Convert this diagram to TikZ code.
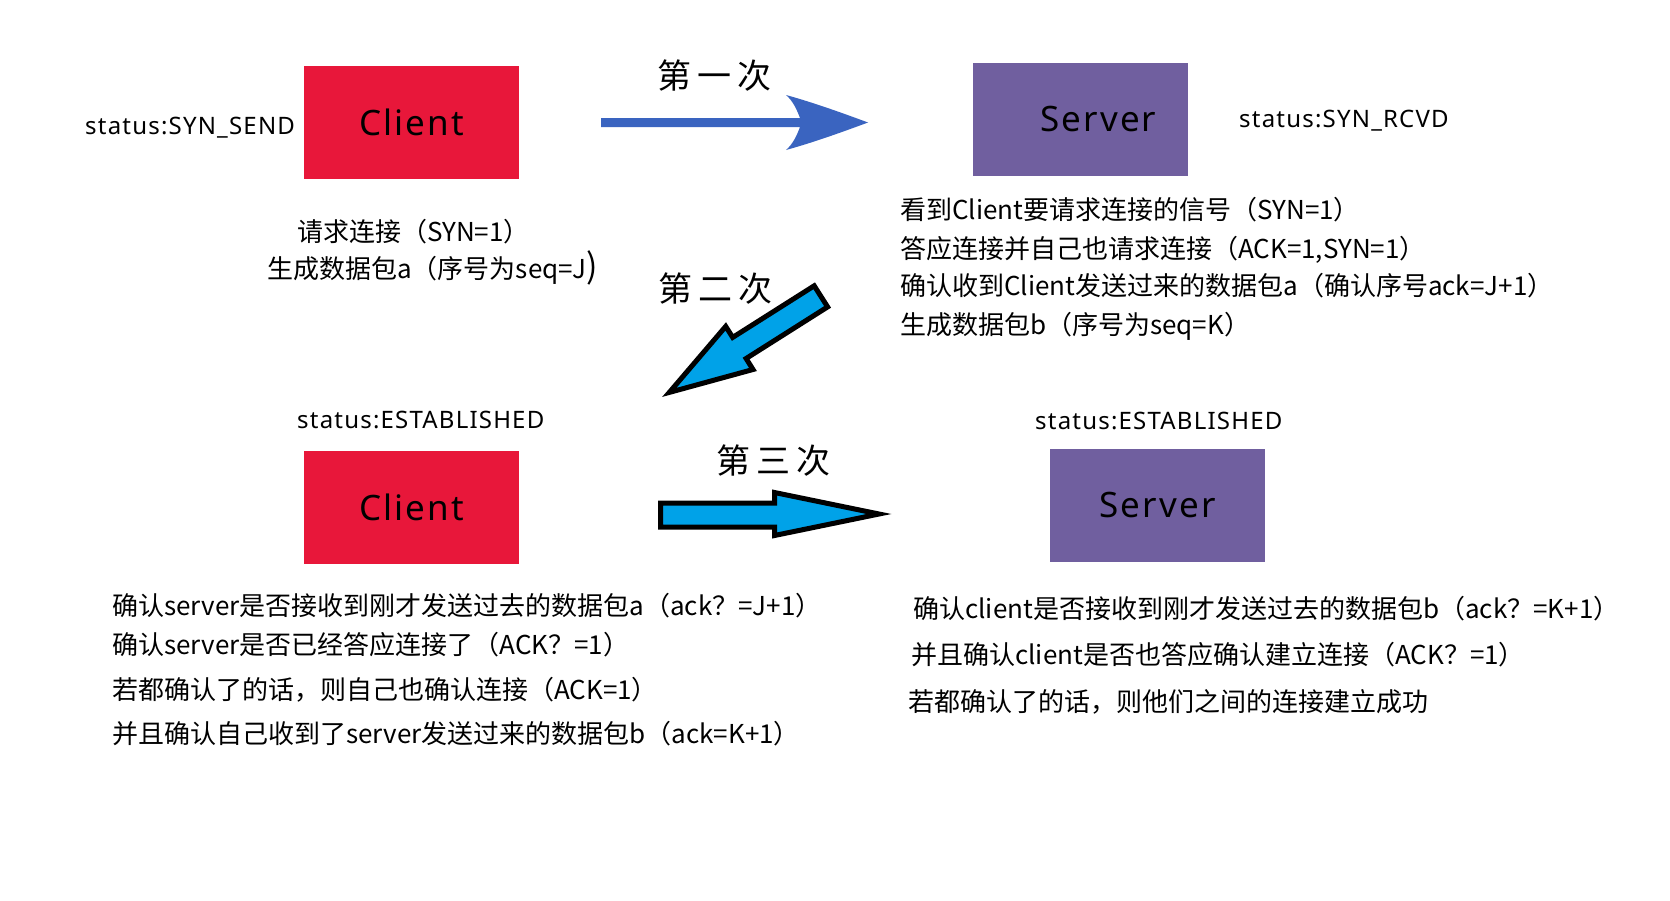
\documentclass[tikz,border=0pt]{standalone}
\usepackage{fontspec}
\setmainfont{Noto Sans}
\newfontfamily\cjk{Noto Sans CJK SC}
\newfontfamily\cjkhead[LetterSpace=18]{Noto Sans CJK SC}
\newfontfamily\statfont[LetterSpace=5]{Noto Sans}
\newfontfamily\boxfont[LetterSpace=6]{Noto Sans}
\definecolor{cred}{HTML}{E8173A}
\definecolor{spurple}{HTML}{705F9F}
\definecolor{ablue}{HTML}{3A64C0}
\definecolor{acyan}{HTML}{00A2E8}
\begin{document}
\begin{tikzpicture}[x=1pt,y=-1pt,
  body/.style={anchor=base west, inner sep=0pt, font=\cjk\fontsize{26}{30}\selectfont},
  headtxt/.style={anchor=base west, inner sep=0pt, font=\cjkhead\fontsize{34}{40}\selectfont},
  stat/.style={anchor=base west, inner sep=0pt, font=\statfont\fontsize{24}{28}\selectfont},
  clientbox/.style={fill=cred, minimum width=215pt, minimum height=113pt, inner sep=0pt, font=\boxfont\fontsize{35}{40}\selectfont},
  serverbox/.style={clientbox, fill=spurple},
  blockarrow/.style={fill=acyan, draw=black, line width=5pt, miter limit=10}
]
\fill[white] (0,0) rectangle (1670,900);
\useasboundingbox (0,0) rectangle (1670,900);

% boxes
\node[clientbox] (c1) at (411.5,122.5) {Client};
\node[serverbox] (s1) at (1080.5,119) {\hspace*{36pt}Server};
\node[clientbox] (c2) at (411.5,507) {Client};
\node[serverbox] (s2) at (1157.5,505) {Server};

% status labels
\node[stat] (st1) at (85,134) {status:SYN\_SEND};
\node[stat] (st2) at (1239,127) {status:SYN\_RCVD};
\node[stat] (st3) at (297,428) {status:ESTABLISHED};
\node[stat] (st4) at (1035,429) {status:ESTABLISHED};

% step labels
\node[headtxt] (h1) at (657,88) {第一次};
\node[headtxt] (h2) at (658,301) {第二次};
\node[headtxt] (h3) at (716,473) {第三次};

% arrow 1
\fill[ablue] (601,118) -- (800,118) .. controls (797,110) and (793,101) .. (786,95)
  .. controls (815,103) and (845,114) .. (868,122.5)
  .. controls (845,131) and (815,142) .. (786,150)
  .. controls (793,144) and (797,135) .. (800,127) -- (601,127) -- cycle;

% arrow 2
\draw[blockarrow] (814.2,285.8) -- (732.7,337.4) -- (725.7,326.4) -- (669.3,392.4)
  -- (753.0,369.5) -- (746.1,358.5) -- (827.6,306.9) -- cycle;

% arrow 3
\draw[blockarrow] (660.5,503) -- (774.5,503) -- (774.5,492.5) -- (879,514)
  -- (774.5,535.5) -- (774.5,527) -- (660.5,527) -- cycle;

% client text (step 1)
\node[body] (t11) at (297,241) {请求连接（SYN=1）};
\node[body] (t12) at (267,278) {生成数据包a（序号为seq=J{\fontsize{34}{34}\selectfont )}};

% server text (step 2)
\node[body] (t21) at (900,219) {看到Client要请求连接的信号（SYN=1）};
\node[body] (t22) at (900,258) {答应连接并自己也请求连接（ACK=1,SYN=1）};
\node[body] (t23) at (900,295) {确认收到Client发送过来的数据包a（确认序号ack=J+1）};
\node[body] (t24) at (900,334) {生成数据包b（序号为seq=K）};

% client text (step 3)
\node[body] (t31) at (112,615) {确认server是否接收到刚才发送过去的数据包a（ack？=J+1）};
\node[body] (t32) at (112,654) {确认server是否已经答应连接了（ACK？=1）};
\node[body] (t33) at (112,699) {若都确认了的话，则自己也确认连接（ACK=1）};
\node[body] (t34) at (112,743) {并且确认自己收到了server发送过来的数据包b（ack=K+1）};

% server text (step 3)
\node[body] (t41) at (913,618) {确认client是否接收到刚才发送过去的数据包b（ack？=K+1）};
\node[body] (t42) at (911,664) {并且确认client是否也答应确认建立连接（ACK？=1）};
\node[body] (t43) at (908,711) {若都确认了的话，则他们之间的连接建立成功};
\end{tikzpicture}
\end{document}
